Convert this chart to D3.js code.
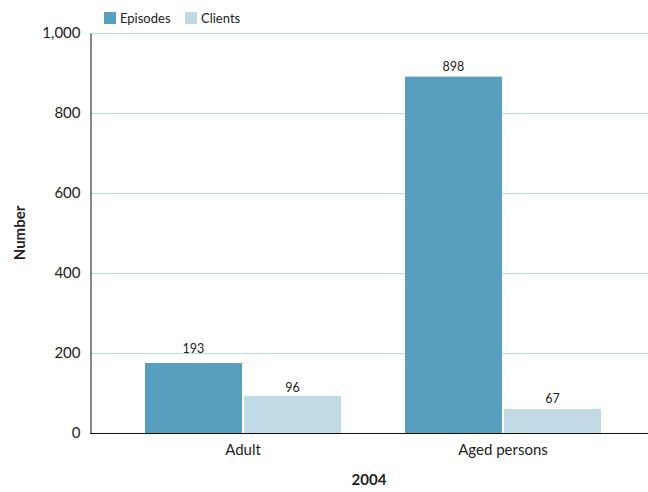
<!DOCTYPE html>
<html>
<head>
<meta charset="utf-8">
<script src="https://cdn.jsdelivr.net/npm/d3@7"></script>
<style>
    body { margin: 0; background: #fff; }
    text { font-family: Lato, "Open Sans", sans-serif; fill: #222; }
</style>
</head>
<body>
<svg id="chart" width="648" height="492"></svg>
<script>
// data
var categories = ['Adult', 'Aged persons'];
var series = ['Episodes', 'Clients'];
var episodes = [175, 891];       // bar heights as drawn
var clients = [93, 60];
var episodeLabels = [193, 898];  // printed values
var clientLabels = [96, 67];
var yTicks = [0, 200, 400, 600, 800, 1000];
var xTitle = '2004';
var yTitle = 'Number';

var colors = { Episodes: '#589fbf', Clients: '#c0dbe6' };

var svg = d3.select('#chart');
var plotLeft = 90, plotRight = 648, plotTop = 33, plotBottom = 433;

var x0 = d3.scaleBand()
    .domain(categories)
    .range([plotLeft, 656])
    .paddingInner(0.246)
    .paddingOuter(0.2115);

var x1 = d3.scaleBand()
    .domain(series)
    .range([0, x0.bandwidth()])
    .paddingInner(0.02);

var y = d3.scaleLinear()
    .domain([0, 1000])
    .range([plotBottom, plotTop]);

// grid lines
svg.append('g')
    .selectAll('line')
    .data(yTicks.filter(function (d) { return d > 0; }))
    .join('line')
    .attr('x1', plotLeft).attr('x2', plotRight)
    .attr('y1', function (d) { return y(d) + 0.5; })
    .attr('y2', function (d) { return y(d) + 0.5; })
    .attr('stroke', '#bcd9e6')
    .attr('stroke-width', 1);

// y axis
var yAxis = d3.axisLeft(y)
    .tickValues(yTicks)
    .tickFormat(d3.format(','))
    .tickSize(0)
    .tickPadding(10);

var gy = svg.append('g')
    .attr('transform', 'translate(' + (plotLeft + 0.5) + ',0)')
    .call(yAxis);
gy.select('.domain').attr('stroke', '#111');
gy.selectAll('text')
    .style('font-size', '15px')
    .style('font-family', 'Lato, sans-serif')
    .attr('fill', '#2a2a2a');

var rows = categories.map(function (c, i) {
    return {
        cat: c,
        bars: [
            { key: 'Episodes', value: episodes[i], label: episodeLabels[i] },
            { key: 'Clients', value: clients[i], label: clientLabels[i] }
        ]
    };
});

var groups = svg.append('g')
    .selectAll('g')
    .data(rows)
    .join('g')
    .attr('transform', function (d) { return 'translate(' + x0(d.cat) + ',0)'; });

groups.selectAll('rect')
    .data(function (d) { return d.bars; })
    .join('rect')
    .attr('x', function (d) { return x1(d.key); })
    .attr('width', x1.bandwidth())
    .attr('y', function (d) { return y(d.value); })
    .attr('height', function (d) { return plotBottom - y(d.value); })
    .attr('fill', function (d) { return colors[d.key]; });

groups.selectAll('text.val')
    .data(function (d) { return d.bars; })
    .join('text')
    .attr('class', 'val')
    .attr('x', function (d) { return x1(d.key) + x1.bandwidth() / 2; })
    .attr('y', function (d) { return y(d.label) - 3; })
    .attr('text-anchor', 'middle')
    .style('font-size', '12.5px')
    .text(function (d) { return d.label; });

// x axis
var xAxis = d3.axisBottom(x0).tickSize(0).tickPadding(11);
var gx = svg.append('g')
    .attr('transform', 'translate(0,' + (plotBottom + 0.5) + ')')
    .call(xAxis);
gx.select('.domain').remove();
gx.append('line')
    .attr('x1', plotLeft).attr('x2', plotRight)
    .attr('stroke', '#111');
gx.selectAll('text')
    .style('font-size', '15px')
    .style('font-family', 'Lato, sans-serif')
    .attr('fill', '#2a2a2a');

// titles
svg.append('text')
    .attr('x', (plotLeft + plotRight) / 2)
    .attr('y', 485)
    .attr('text-anchor', 'middle')
    .style('font-size', '15px')
    .style('font-weight', 'bold')
    .text(xTitle);

svg.append('text')
    .attr('transform', 'translate(25,' + ((plotTop + plotBottom) / 2) + ') rotate(-90)')
    .attr('text-anchor', 'middle')
    .style('font-size', '15px')
    .style('font-weight', 'bold')
    .text(yTitle);

// legend
var legend = svg.append('g')
    .selectAll('g')
    .data(series)
    .join('g')
    .attr('transform', function (d, i) { return 'translate(' + (104 + i * 81) + ',12)'; });

legend.append('rect')
    .attr('width', 12).attr('height', 12)
    .attr('fill', function (d) { return colors[d]; });

legend.append('text')
    .attr('x', 16).attr('y', 11)
    .style('font-size', '13px')
    .text(function (d) { return d; });
</script>
</body>
</html>
